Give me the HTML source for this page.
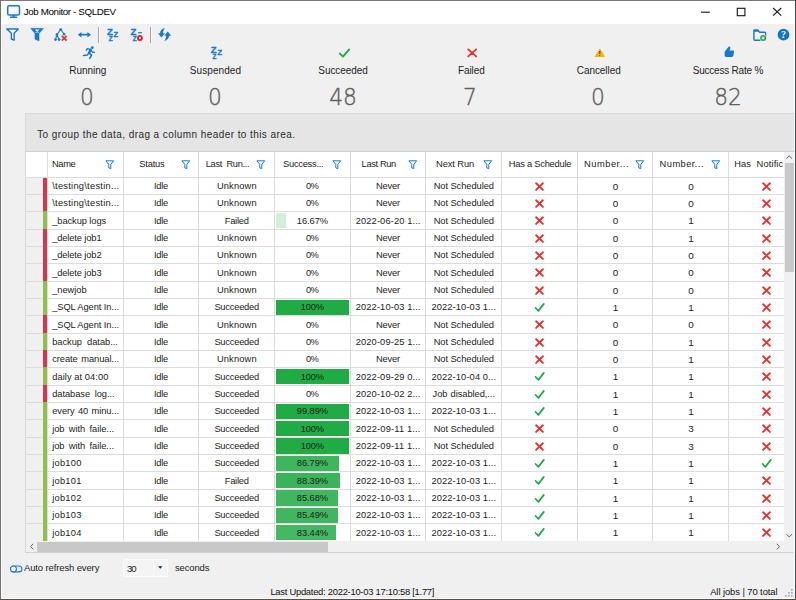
<!DOCTYPE html>
<html lang="en"><head><meta charset="utf-8"><title>Job Monitor - SQLDEV</title>
<style>
html,body{margin:0;padding:0;}
body{width:796px;height:600px;position:relative;overflow:hidden;background:#f0f0f0;font-family:"Liberation Sans",sans-serif;}
.b{position:absolute;display:block;}
.t{position:absolute;display:block;white-space:nowrap;font-family:"Liberation Sans",sans-serif;}
svg{overflow:visible}
</style></head><body>
<div class="b" style="left:0.00px;top:0.00px;width:796.00px;height:600.00px;background:#f0f0f0;"></div>
<div class="b" style="left:1.00px;top:1.00px;width:794.00px;height:23.20px;background:#ffffff;"></div>
<div class="b" style="left:1.00px;top:24.00px;width:1.20px;height:575.00px;background:#ffffff;"></div>
<div class="b" style="left:793.80px;top:24.00px;width:1.20px;height:575.00px;background:#ffffff;"></div>
<div class="b" style="left:1.00px;top:597.60px;width:794.00px;height:1.40px;background:#ffffff;"></div>
<div class="b" style="left:0.00px;top:0.00px;width:796.00px;height:1.00px;background:#7a7a7a;"></div>
<div class="b" style="left:0.00px;top:0.00px;width:1.00px;height:600.00px;background:#757270;"></div>
<div class="b" style="left:795.00px;top:0.00px;width:1.00px;height:600.00px;background:#434b52;"></div>
<div class="b" style="left:0.00px;top:599.00px;width:796.00px;height:1.00px;background:#5d4c40;"></div>
<svg class="b" style="left:6.00px;top:4.00px" width="16" height="16" viewBox="0 0 16 16"><rect x="1.7" y="1.8" width="11.8" height="9.2" rx="1.6" fill="none" stroke="#1579d3" stroke-width="1.5"/><rect x="6.4" y="11" width="2.4" height="1.8" fill="#1579d3"/><rect x="3.8" y="12.6" width="7.6" height="1.3" rx="0.6" fill="#1579d3"/></svg>
<span class="t" style="left:23.80px;top:4.10px;font-size:9.8px;line-height:16px;letter-spacing:-0.386px;color:#000;">Job Monitor - SQLDEV</span>
<svg class="b" style="left:696.00px;top:0.00px" width="100" height="24" viewBox="0 0 100 24"><path d="M5 12.2H13.8" stroke="#1a1a1a" stroke-width="1.15" fill="none"/><rect x="41.3" y="8.3" width="7.6" height="7.4" fill="none" stroke="#1a1a1a" stroke-width="1.15"/><path d="M77.1 8L85.2 15.7M85.2 8L77.1 15.7" stroke="#1a1a1a" stroke-width="1.15" fill="none"/></svg>
<svg class="b" style="left:0px;top:24px" width="200" height="22" viewBox="0 24 200 22"><path d="M6.8 29H18.3L14.1 33.2V40.2L11.4 39V33.2Z" fill="#fbfbfb" stroke="#1579d3" stroke-width="1.4" stroke-linejoin="round"/><path d="M30.6 28.3H43.6L39.1 33.4V41L34.9 39.3V33.4Z" fill="#1579d3" stroke="#1579d3" stroke-width="0.4" stroke-linejoin="round"/><path d="M35.6 29.5L38.6 32.5M38.6 29.5L35.6 32.5" stroke="#fff" stroke-width="1.15"/><path d="M60.7 29.5L56.9 34.7L55.5 39.6M56.9 34.7L59 39.6M60.7 29.5L64.2 34.1" stroke="#1579d3" stroke-width="1.1" fill="none"/><circle cx="60.7" cy="29.6" r="1.45" fill="#1579d3"/><circle cx="56.9" cy="34.7" r="1.35" fill="#1579d3"/><circle cx="64.1" cy="34.2" r="1.25" fill="#1579d3"/><circle cx="55.5" cy="39.6" r="1.35" fill="#1579d3"/><circle cx="59.1" cy="39.6" r="1.35" fill="#1579d3"/><path d="M61.8 35.8L66.6 40.6M66.6 35.8L61.8 40.6" stroke="#e3352d" stroke-width="1.8"/><path d="M77.8 34.7L81.4 31.9V33.8H87.4V31.9L91 34.7L87.4 37.5V35.6H81.4V37.5Z" fill="#1579d3"/><text x="106.9" y="35.0" font-family="Liberation Sans, sans-serif" font-weight="bold" font-size="9.5" fill="#1579d3" stroke="#1579d3" stroke-width="0.35">Z</text><text x="113.6" y="36.8" font-family="Liberation Sans, sans-serif" font-weight="bold" font-size="7.5" fill="#1579d3" stroke="#1579d3" stroke-width="0.35">Z</text><text x="108.7" y="40.9" font-family="Liberation Sans, sans-serif" font-weight="bold" font-size="6.4" fill="#1579d3" stroke="#1579d3" stroke-width="0.35">Z</text><text x="130.6" y="35.0" font-family="Liberation Sans, sans-serif" font-weight="bold" font-size="9.5" fill="#1579d3" stroke="#1579d3" stroke-width="0.35">Z</text><text x="132.7" y="40.9" font-family="Liberation Sans, sans-serif" font-weight="bold" font-size="6.4" fill="#1579d3" stroke="#1579d3" stroke-width="0.35">Z</text><path d="M138 32.7H142" stroke="#1579d3" stroke-width="1.2"/><circle cx="139.9" cy="38" r="2.05" fill="#fff" stroke="#ee1c25" stroke-width="1.8"/><path d="M165 28C162 28.6 160.2 30.6 160.1 33.2H158L161.4 37.5L165 33.2H163C163 31.2 163.6 29.5 165 28Z" fill="#1579d3"/><path d="M164.2 41C167.2 40.4 169 38.4 169.1 35.8H171.2L167.8 31.5L164.2 35.8H166.2C166.2 37.8 165.6 39.5 164.2 41Z" fill="#1579d3"/></svg>
<div class="b" style="left:97.60px;top:26.50px;width:1.20px;height:16.20px;background:#a8a8a8;"></div>
<div class="b" style="left:98.80px;top:26.50px;width:0.80px;height:16.20px;background:#fafafa;"></div>
<div class="b" style="left:149.60px;top:26.50px;width:1.20px;height:16.20px;background:#a8a8a8;"></div>
<div class="b" style="left:150.80px;top:26.50px;width:0.80px;height:16.20px;background:#fafafa;"></div>
<svg class="b" style="left:748px;top:24px" width="46" height="22" viewBox="748 24 46 22"><path d="M753.9 30.6V39.2C753.9 39.8 754.3 40.2 754.9 40.2H764.6C765.2 40.2 765.6 39.8 765.6 39.2V33.2C765.6 32.6 765.2 32.2 764.6 32.2H759.4L758.2 30.4C758 30.1 757.7 29.9 757.3 29.9H754.6C754.2 29.9 753.9 30.2 753.9 30.6Z" fill="none" stroke="#1579d3" stroke-width="1.4" stroke-linejoin="round"/><path d="M753.9 29.9H758L759 31.8H753.9Z" fill="#1579d3"/><circle cx="763.1" cy="38" r="3.5" fill="#f0f0f0"/><circle cx="763.1" cy="38" r="3" fill="#27a84a"/><path d="M763.1 36.6V39.4M761.7 38H764.5" stroke="#fff" stroke-width="1.1"/><circle cx="783.5" cy="34.7" r="5.85" fill="#1474cc"/><text x="783.5" y="38.1" text-anchor="middle" font-family="Liberation Serif, serif" font-weight="bold" font-size="10" fill="#fff">?</text></svg>
<span class="t" style="left:69.20px;top:62.60px;font-size:10px;line-height:16px;letter-spacing:-0.025px;color:#1e1e1e;">Running</span>
<span class="t" style="left:47.45px;top:78.50px;width:80px;text-align:center;font-family:'DejaVu Sans Light','DejaVu Sans',sans-serif;font-weight:200;font-size:22.9px;line-height:36px;color:#5f5f5f;-webkit-text-stroke:0.4px #5f5f5f;transform:scaleX(0.95);transform-origin:50% 50%;">0</span>
<span class="t" style="left:189.81px;top:62.60px;font-size:10px;line-height:16px;letter-spacing:0.074px;color:#1e1e1e;">Suspended</span>
<span class="t" style="left:175.41px;top:78.50px;width:80px;text-align:center;font-family:'DejaVu Sans Light','DejaVu Sans',sans-serif;font-weight:200;font-size:22.9px;line-height:36px;color:#5f5f5f;-webkit-text-stroke:0.4px #5f5f5f;transform:scaleX(0.95);transform-origin:50% 50%;">0</span>
<span class="t" style="left:318.30px;top:62.60px;font-size:10px;line-height:16px;letter-spacing:-0.055px;color:#1e1e1e;">Succeeded</span>
<span class="t" style="left:302.60px;top:78.50px;width:80px;text-align:center;font-family:'DejaVu Sans Light','DejaVu Sans',sans-serif;font-weight:200;font-size:22.9px;line-height:36px;color:#5f5f5f;-webkit-text-stroke:0.4px #5f5f5f;transform:scaleX(0.95);transform-origin:50% 50%;">48</span>
<span class="t" style="left:458.00px;top:62.60px;font-size:10px;line-height:16px;letter-spacing:-0.107px;color:#1e1e1e;">Failed</span>
<span class="t" style="left:430.30px;top:78.50px;width:80px;text-align:center;font-family:'DejaVu Sans Light','DejaVu Sans',sans-serif;font-weight:200;font-size:22.9px;line-height:36px;color:#5f5f5f;-webkit-text-stroke:0.4px #5f5f5f;transform:scaleX(0.95);transform-origin:50% 50%;">7</span>
<span class="t" style="left:576.80px;top:62.60px;font-size:10px;line-height:16px;letter-spacing:-0.072px;color:#1e1e1e;">Cancelled</span>
<span class="t" style="left:558.45px;top:78.50px;width:80px;text-align:center;font-family:'DejaVu Sans Light','DejaVu Sans',sans-serif;font-weight:200;font-size:22.9px;line-height:36px;color:#5f5f5f;-webkit-text-stroke:0.4px #5f5f5f;transform:scaleX(0.95);transform-origin:50% 50%;">0</span>
<span class="t" style="left:692.70px;top:62.60px;font-size:10px;line-height:16px;letter-spacing:-0.213px;color:#1e1e1e;">Success Rate %</span>
<span class="t" style="left:688.45px;top:78.50px;width:80px;text-align:center;font-family:'DejaVu Sans Light','DejaVu Sans',sans-serif;font-weight:200;font-size:22.9px;line-height:36px;color:#5f5f5f;-webkit-text-stroke:0.4px #5f5f5f;transform:scaleX(0.95);transform-origin:50% 50%;">82</span>
<svg class="b" style="left:60px;top:44px" width="700" height="18" viewBox="60 44 700 18"><circle cx="92.3" cy="47.7" r="1.35" fill="#1579d3"/><path d="M90.5 49.6L89 53" stroke="#1579d3" stroke-width="2.3" stroke-linecap="round" fill="none"/><path d="M90.2 49.3L87.2 48.7L86.2 50.3" stroke="#1579d3" stroke-width="1.3" stroke-linecap="round" stroke-linejoin="round" fill="none"/><path d="M90.9 49.9L92.4 52L94.5 52.4" stroke="#1579d3" stroke-width="1.3" stroke-linecap="round" stroke-linejoin="round" fill="none"/><path d="M89.2 53L91.6 55.1L89.7 58.4" stroke="#1579d3" stroke-width="1.6" stroke-linecap="round" stroke-linejoin="round" fill="none"/><path d="M88.6 53.4L87.3 55.1L83.5 55.5" stroke="#1579d3" stroke-width="1.5" stroke-linecap="round" stroke-linejoin="round" fill="none"/><text x="210.8" y="53.199999999999996" font-family="Liberation Sans, sans-serif" font-weight="bold" font-size="9.5" fill="#1579d3" stroke="#1579d3" stroke-width="0.35">Z</text><text x="217.5" y="54.99999999999999" font-family="Liberation Sans, sans-serif" font-weight="bold" font-size="7.5" fill="#1579d3" stroke="#1579d3" stroke-width="0.35">Z</text><text x="212.60000000000002" y="59.099999999999994" font-family="Liberation Sans, sans-serif" font-weight="bold" font-size="6.4" fill="#1579d3" stroke="#1579d3" stroke-width="0.35">Z</text><path d="M339.9 53.6L343 56.6L349.2 49.4" fill="none" stroke="#22a94c" stroke-width="1.9" stroke-linecap="round" stroke-linejoin="round"/><path d="M468.2 49.4L476.2 56.4M476.2 49.4L468.2 56.4" stroke="#e3352d" stroke-width="1.9" stroke-linecap="round"/><path d="M599.8 49.3L604.3 56.5H595.3Z" fill="#f7b500" stroke="#f7b500" stroke-width="1.1" stroke-linejoin="round"/><path d="M599.75 51V54.1" stroke="#5a4300" stroke-width="1.15"/><circle cx="599.75" cy="55.5" r="0.6" fill="#5a4300"/><path d="M729.2 46.6C730.2 46.4 730.7 47.4 730.3 48.4L729.5 50.6H733C733.8 50.6 734.2 51.2 734 52L733.4 55.6C733.2 56.4 732.6 56.9 731.8 56.9H726.4C725.2 56.9 724.6 56.2 724.6 55.2V52.4C724.6 51.6 725 51 725.6 50.4L728.2 47.2C728.5 46.8 728.8 46.6 729.2 46.6Z" fill="#1579d3"/></svg>
<div class="b" style="left:25.20px;top:113.20px;width:768.80px;height:439.80px;background:#ffffff;"></div>
<div class="b" style="left:25.20px;top:113.20px;width:768.80px;height:38.20px;background:#e5e5e5;"></div>
<div class="b" style="left:25.20px;top:112.70px;width:768.80px;height:1.00px;background:#d8d8d8;"></div>
<div class="b" style="left:24.80px;top:113.20px;width:1.00px;height:439.80px;background:#d8d8d8;"></div>
<div class="b" style="left:25.20px;top:150.90px;width:768.80px;height:1.00px;background:#d0d0d0;"></div>
<span class="t" style="left:37.20px;top:127.30px;font-size:10px;line-height:16px;letter-spacing:0.425px;color:#2b2b2b;">To group the data, drag a column header to this area.</span>
<div class="b" style="left:25.80px;top:177.30px;width:21.80px;height:363.70px;background:#f0f0f0;"></div>
<div class="b" style="left:47.10px;top:151.90px;width:1.00px;height:389.10px;background:#dcdcdc;"></div>
<div class="b" style="left:122.77px;top:151.90px;width:1.00px;height:389.10px;background:#dcdcdc;"></div>
<div class="b" style="left:198.44px;top:151.90px;width:1.00px;height:389.10px;background:#dcdcdc;"></div>
<div class="b" style="left:274.11px;top:151.90px;width:1.00px;height:389.10px;background:#dcdcdc;"></div>
<div class="b" style="left:349.78px;top:151.90px;width:1.00px;height:389.10px;background:#dcdcdc;"></div>
<div class="b" style="left:425.45px;top:151.90px;width:1.00px;height:389.10px;background:#dcdcdc;"></div>
<div class="b" style="left:501.12px;top:151.90px;width:1.00px;height:389.10px;background:#dcdcdc;"></div>
<div class="b" style="left:576.79px;top:151.90px;width:1.00px;height:389.10px;background:#dcdcdc;"></div>
<div class="b" style="left:652.46px;top:151.90px;width:1.00px;height:389.10px;background:#dcdcdc;"></div>
<div class="b" style="left:728.13px;top:151.90px;width:1.00px;height:389.10px;background:#dcdcdc;"></div>
<div class="b" style="left:25.80px;top:176.80px;width:758.20px;height:1.00px;background:#dcdcdc;"></div>
<div class="b" style="left:25.80px;top:194.13px;width:758.20px;height:1.00px;background:#dcdcdc;"></div>
<div class="b" style="left:25.80px;top:211.47px;width:758.20px;height:1.00px;background:#dcdcdc;"></div>
<div class="b" style="left:25.80px;top:228.80px;width:758.20px;height:1.00px;background:#dcdcdc;"></div>
<div class="b" style="left:25.80px;top:246.13px;width:758.20px;height:1.00px;background:#dcdcdc;"></div>
<div class="b" style="left:25.80px;top:263.47px;width:758.20px;height:1.00px;background:#dcdcdc;"></div>
<div class="b" style="left:25.80px;top:280.80px;width:758.20px;height:1.00px;background:#dcdcdc;"></div>
<div class="b" style="left:25.80px;top:298.13px;width:758.20px;height:1.00px;background:#dcdcdc;"></div>
<div class="b" style="left:25.80px;top:315.46px;width:758.20px;height:1.00px;background:#dcdcdc;"></div>
<div class="b" style="left:25.80px;top:332.80px;width:758.20px;height:1.00px;background:#dcdcdc;"></div>
<div class="b" style="left:25.80px;top:350.13px;width:758.20px;height:1.00px;background:#dcdcdc;"></div>
<div class="b" style="left:25.80px;top:367.46px;width:758.20px;height:1.00px;background:#dcdcdc;"></div>
<div class="b" style="left:25.80px;top:384.80px;width:758.20px;height:1.00px;background:#dcdcdc;"></div>
<div class="b" style="left:25.80px;top:402.13px;width:758.20px;height:1.00px;background:#dcdcdc;"></div>
<div class="b" style="left:25.80px;top:419.46px;width:758.20px;height:1.00px;background:#dcdcdc;"></div>
<div class="b" style="left:25.80px;top:436.80px;width:758.20px;height:1.00px;background:#dcdcdc;"></div>
<div class="b" style="left:25.80px;top:454.13px;width:758.20px;height:1.00px;background:#dcdcdc;"></div>
<div class="b" style="left:25.80px;top:471.46px;width:758.20px;height:1.00px;background:#dcdcdc;"></div>
<div class="b" style="left:25.80px;top:488.79px;width:758.20px;height:1.00px;background:#dcdcdc;"></div>
<div class="b" style="left:25.80px;top:506.13px;width:758.20px;height:1.00px;background:#dcdcdc;"></div>
<div class="b" style="left:25.80px;top:523.46px;width:758.20px;height:1.00px;background:#dcdcdc;"></div>
<div class="b" style="left:25.80px;top:540.79px;width:758.20px;height:1.00px;background:#dcdcdc;"></div>
<span class="t" style="left:51.90px;top:157.10px;font-size:9.3px;line-height:15px;letter-spacing:-0.300px;color:#1c1c1c;white-space:pre;">Name</span>
<svg class="b" style="left:105.20px;top:159.80px" width="10" height="10" viewBox="0 0 10 10"><path d="M0.9 0.8H8.7L5.8 4.4V8.6L3.8 7.9V4.4Z" fill="none" stroke="#1579d3" stroke-width="1" stroke-linejoin="round"/></svg>
<span class="t" style="left:139.30px;top:157.10px;font-size:9.3px;line-height:15px;letter-spacing:-0.191px;color:#1c1c1c;white-space:pre;">Status</span>
<svg class="b" style="left:180.60px;top:159.80px" width="10" height="10" viewBox="0 0 10 10"><path d="M0.9 0.8H8.7L5.8 4.4V8.6L3.8 7.9V4.4Z" fill="none" stroke="#1579d3" stroke-width="1" stroke-linejoin="round"/></svg>
<span class="t" style="left:205.80px;top:157.10px;font-size:9.3px;line-height:15px;letter-spacing:-0.349px;color:#1c1c1c;white-space:pre;">Last  Run...</span>
<svg class="b" style="left:256.40px;top:159.80px" width="10" height="10" viewBox="0 0 10 10"><path d="M0.9 0.8H8.7L5.8 4.4V8.6L3.8 7.9V4.4Z" fill="none" stroke="#1579d3" stroke-width="1" stroke-linejoin="round"/></svg>
<span class="t" style="left:283.00px;top:157.10px;font-size:9.3px;line-height:15px;letter-spacing:-0.243px;color:#1c1c1c;white-space:pre;">Success...</span>
<svg class="b" style="left:332.30px;top:159.80px" width="10" height="10" viewBox="0 0 10 10"><path d="M0.9 0.8H8.7L5.8 4.4V8.6L3.8 7.9V4.4Z" fill="none" stroke="#1579d3" stroke-width="1" stroke-linejoin="round"/></svg>
<span class="t" style="left:361.60px;top:157.10px;font-size:9.3px;line-height:15px;letter-spacing:-0.359px;color:#1c1c1c;white-space:pre;">Last Run</span>
<svg class="b" style="left:408.10px;top:159.80px" width="10" height="10" viewBox="0 0 10 10"><path d="M0.9 0.8H8.7L5.8 4.4V8.6L3.8 7.9V4.4Z" fill="none" stroke="#1579d3" stroke-width="1" stroke-linejoin="round"/></svg>
<span class="t" style="left:436.00px;top:157.10px;font-size:9.3px;line-height:15px;letter-spacing:-0.079px;color:#1c1c1c;white-space:pre;">Next Run</span>
<svg class="b" style="left:483.30px;top:159.80px" width="10" height="10" viewBox="0 0 10 10"><path d="M0.9 0.8H8.7L5.8 4.4V8.6L3.8 7.9V4.4Z" fill="none" stroke="#1579d3" stroke-width="1" stroke-linejoin="round"/></svg>
<span class="t" style="left:508.80px;top:157.10px;font-size:9.3px;line-height:15px;letter-spacing:-0.234px;color:#1c1c1c;white-space:pre;">Has a Schedule</span>
<span class="t" style="left:584.00px;top:157.10px;font-size:9.3px;line-height:15px;letter-spacing:0.525px;color:#1c1c1c;white-space:pre;">Number...</span>
<svg class="b" style="left:634.80px;top:159.80px" width="10" height="10" viewBox="0 0 10 10"><path d="M0.9 0.8H8.7L5.8 4.4V8.6L3.8 7.9V4.4Z" fill="none" stroke="#1579d3" stroke-width="1" stroke-linejoin="round"/></svg>
<span class="t" style="left:659.60px;top:157.10px;font-size:9.3px;line-height:15px;letter-spacing:0.450px;color:#1c1c1c;white-space:pre;">Number...</span>
<svg class="b" style="left:710.80px;top:159.80px" width="10" height="10" viewBox="0 0 10 10"><path d="M0.9 0.8H8.7L5.8 4.4V8.6L3.8 7.9V4.4Z" fill="none" stroke="#1579d3" stroke-width="1" stroke-linejoin="round"/></svg>
<span class="t" style="left:734.20px;top:157.10px;font-size:9.3px;line-height:15px;letter-spacing:0.134px;color:#1c1c1c;white-space:pre;">Has  Notific</span>
<div class="b" style="left:43.20px;top:177.80px;width:4.00px;height:17.33px;background:#d9354b;"></div>
<span class="t" style="left:52.20px;top:179.07px;font-size:9.3px;line-height:15px;letter-spacing:0.263px;color:#1c1c1c;white-space:pre;">\testing\testin...</span>
<span class="t" style="left:153.96px;top:179.07px;font-size:9.3px;line-height:15px;letter-spacing:-0.230px;color:#1c1c1c;">Idle</span>
<span class="t" style="left:216.93px;top:179.07px;font-size:9.3px;line-height:15px;letter-spacing:0.157px;color:#1c1c1c;">Unknown</span>
<span class="t" style="left:306.10px;top:179.07px;font-size:9.3px;line-height:15px;letter-spacing:-0.737px;color:#1c1c1c;">0%</span>
<span class="t" style="left:376.12px;top:179.07px;font-size:9.3px;line-height:15px;letter-spacing:-0.200px;color:#1c1c1c;">Never</span>
<span class="t" style="left:433.64px;top:179.07px;font-size:9.3px;line-height:15px;letter-spacing:-0.057px;color:#1c1c1c;white-space:pre;">Not Scheduled</span>
<svg class="b" style="left:533.56px;top:180.57px" width="11" height="11" viewBox="0 0 11 11"><path d="M2.1 2.3L8.9 8.9M8.9 2.3L2.1 8.9" stroke="#e3352d" stroke-width="1.9" stroke-linecap="round"/></svg>
<span class="t" style="left:612.67px;top:178.57px;font-size:9.9px;line-height:16px;letter-spacing:0.000px;color:#1c1c1c;">0</span>
<span class="t" style="left:688.34px;top:178.57px;font-size:9.9px;line-height:16px;letter-spacing:0.000px;color:#1c1c1c;">0</span>
<svg class="b" style="left:760.57px;top:180.57px" width="11" height="11" viewBox="0 0 11 11"><path d="M2.1 2.3L8.9 8.9M8.9 2.3L2.1 8.9" stroke="#e3352d" stroke-width="1.9" stroke-linecap="round"/></svg>
<div class="b" style="left:43.20px;top:194.13px;width:4.00px;height:18.33px;background:#d9354b;"></div>
<span class="t" style="left:52.20px;top:196.40px;font-size:9.3px;line-height:15px;letter-spacing:0.263px;color:#1c1c1c;white-space:pre;">\testing\testin...</span>
<span class="t" style="left:153.96px;top:196.40px;font-size:9.3px;line-height:15px;letter-spacing:-0.230px;color:#1c1c1c;">Idle</span>
<span class="t" style="left:216.93px;top:196.40px;font-size:9.3px;line-height:15px;letter-spacing:0.157px;color:#1c1c1c;">Unknown</span>
<span class="t" style="left:306.10px;top:196.40px;font-size:9.3px;line-height:15px;letter-spacing:-0.737px;color:#1c1c1c;">0%</span>
<span class="t" style="left:376.12px;top:196.40px;font-size:9.3px;line-height:15px;letter-spacing:-0.200px;color:#1c1c1c;">Never</span>
<span class="t" style="left:433.64px;top:196.40px;font-size:9.3px;line-height:15px;letter-spacing:-0.057px;color:#1c1c1c;white-space:pre;">Not Scheduled</span>
<svg class="b" style="left:533.56px;top:197.90px" width="11" height="11" viewBox="0 0 11 11"><path d="M2.1 2.3L8.9 8.9M8.9 2.3L2.1 8.9" stroke="#e3352d" stroke-width="1.9" stroke-linecap="round"/></svg>
<span class="t" style="left:612.67px;top:195.90px;font-size:9.9px;line-height:16px;letter-spacing:0.000px;color:#1c1c1c;">0</span>
<span class="t" style="left:688.34px;top:195.90px;font-size:9.9px;line-height:16px;letter-spacing:0.000px;color:#1c1c1c;">0</span>
<svg class="b" style="left:760.57px;top:197.90px" width="11" height="11" viewBox="0 0 11 11"><path d="M2.1 2.3L8.9 8.9M8.9 2.3L2.1 8.9" stroke="#e3352d" stroke-width="1.9" stroke-linecap="round"/></svg>
<div class="b" style="left:43.20px;top:211.47px;width:4.00px;height:18.33px;background:#8cc249;"></div>
<span class="t" style="left:52.20px;top:213.73px;font-size:9.3px;line-height:15px;letter-spacing:-0.072px;color:#1c1c1c;white-space:pre;">_backup logs</span>
<span class="t" style="left:153.96px;top:213.73px;font-size:9.3px;line-height:15px;letter-spacing:-0.230px;color:#1c1c1c;">Idle</span>
<span class="t" style="left:224.72px;top:213.73px;font-size:9.3px;line-height:15px;letter-spacing:-0.244px;color:#1c1c1c;">Failed</span>
<div class="b" style="left:275.61px;top:212.97px;width:10.16px;height:15.33px;background:#d3eeda;"></div>
<span class="t" style="left:296.80px;top:213.73px;font-size:9.3px;line-height:15px;letter-spacing:-0.046px;color:#1c1c1c;">16.67%</span>
<span class="t" style="left:355.76px;top:213.73px;font-size:9.3px;line-height:15px;letter-spacing:0.117px;color:#1c1c1c;">2022-06-20 1...</span>
<span class="t" style="left:433.64px;top:213.73px;font-size:9.3px;line-height:15px;letter-spacing:-0.057px;color:#1c1c1c;white-space:pre;">Not Scheduled</span>
<svg class="b" style="left:533.56px;top:215.23px" width="11" height="11" viewBox="0 0 11 11"><path d="M2.1 2.3L8.9 8.9M8.9 2.3L2.1 8.9" stroke="#e3352d" stroke-width="1.9" stroke-linecap="round"/></svg>
<span class="t" style="left:612.67px;top:213.23px;font-size:9.9px;line-height:16px;letter-spacing:0.000px;color:#1c1c1c;">0</span>
<span class="t" style="left:688.34px;top:213.23px;font-size:9.9px;line-height:16px;letter-spacing:0.000px;color:#1c1c1c;">1</span>
<svg class="b" style="left:760.57px;top:215.23px" width="11" height="11" viewBox="0 0 11 11"><path d="M2.1 2.3L8.9 8.9M8.9 2.3L2.1 8.9" stroke="#e3352d" stroke-width="1.9" stroke-linecap="round"/></svg>
<div class="b" style="left:43.20px;top:228.80px;width:4.00px;height:18.33px;background:#d9354b;"></div>
<span class="t" style="left:52.20px;top:231.07px;font-size:9.3px;line-height:15px;letter-spacing:-0.115px;color:#1c1c1c;white-space:pre;">_delete job1</span>
<span class="t" style="left:153.96px;top:231.07px;font-size:9.3px;line-height:15px;letter-spacing:-0.230px;color:#1c1c1c;">Idle</span>
<span class="t" style="left:216.93px;top:231.07px;font-size:9.3px;line-height:15px;letter-spacing:0.157px;color:#1c1c1c;">Unknown</span>
<span class="t" style="left:306.10px;top:231.07px;font-size:9.3px;line-height:15px;letter-spacing:-0.737px;color:#1c1c1c;">0%</span>
<span class="t" style="left:376.12px;top:231.07px;font-size:9.3px;line-height:15px;letter-spacing:-0.200px;color:#1c1c1c;">Never</span>
<span class="t" style="left:433.64px;top:231.07px;font-size:9.3px;line-height:15px;letter-spacing:-0.057px;color:#1c1c1c;white-space:pre;">Not Scheduled</span>
<svg class="b" style="left:533.56px;top:232.57px" width="11" height="11" viewBox="0 0 11 11"><path d="M2.1 2.3L8.9 8.9M8.9 2.3L2.1 8.9" stroke="#e3352d" stroke-width="1.9" stroke-linecap="round"/></svg>
<span class="t" style="left:612.67px;top:230.57px;font-size:9.9px;line-height:16px;letter-spacing:0.000px;color:#1c1c1c;">0</span>
<span class="t" style="left:688.34px;top:230.57px;font-size:9.9px;line-height:16px;letter-spacing:0.000px;color:#1c1c1c;">1</span>
<svg class="b" style="left:760.57px;top:232.57px" width="11" height="11" viewBox="0 0 11 11"><path d="M2.1 2.3L8.9 8.9M8.9 2.3L2.1 8.9" stroke="#e3352d" stroke-width="1.9" stroke-linecap="round"/></svg>
<div class="b" style="left:43.20px;top:246.13px;width:4.00px;height:18.33px;background:#d9354b;"></div>
<span class="t" style="left:52.20px;top:248.40px;font-size:9.3px;line-height:15px;letter-spacing:-0.115px;color:#1c1c1c;white-space:pre;">_delete job2</span>
<span class="t" style="left:153.96px;top:248.40px;font-size:9.3px;line-height:15px;letter-spacing:-0.230px;color:#1c1c1c;">Idle</span>
<span class="t" style="left:216.93px;top:248.40px;font-size:9.3px;line-height:15px;letter-spacing:0.157px;color:#1c1c1c;">Unknown</span>
<span class="t" style="left:306.10px;top:248.40px;font-size:9.3px;line-height:15px;letter-spacing:-0.737px;color:#1c1c1c;">0%</span>
<span class="t" style="left:376.12px;top:248.40px;font-size:9.3px;line-height:15px;letter-spacing:-0.200px;color:#1c1c1c;">Never</span>
<span class="t" style="left:433.64px;top:248.40px;font-size:9.3px;line-height:15px;letter-spacing:-0.057px;color:#1c1c1c;white-space:pre;">Not Scheduled</span>
<svg class="b" style="left:533.56px;top:249.90px" width="11" height="11" viewBox="0 0 11 11"><path d="M2.1 2.3L8.9 8.9M8.9 2.3L2.1 8.9" stroke="#e3352d" stroke-width="1.9" stroke-linecap="round"/></svg>
<span class="t" style="left:612.67px;top:247.90px;font-size:9.9px;line-height:16px;letter-spacing:0.000px;color:#1c1c1c;">0</span>
<span class="t" style="left:688.34px;top:247.90px;font-size:9.9px;line-height:16px;letter-spacing:0.000px;color:#1c1c1c;">0</span>
<svg class="b" style="left:760.57px;top:249.90px" width="11" height="11" viewBox="0 0 11 11"><path d="M2.1 2.3L8.9 8.9M8.9 2.3L2.1 8.9" stroke="#e3352d" stroke-width="1.9" stroke-linecap="round"/></svg>
<div class="b" style="left:43.20px;top:263.47px;width:4.00px;height:18.33px;background:#d9354b;"></div>
<span class="t" style="left:52.20px;top:265.73px;font-size:9.3px;line-height:15px;letter-spacing:-0.115px;color:#1c1c1c;white-space:pre;">_delete job3</span>
<span class="t" style="left:153.96px;top:265.73px;font-size:9.3px;line-height:15px;letter-spacing:-0.230px;color:#1c1c1c;">Idle</span>
<span class="t" style="left:216.93px;top:265.73px;font-size:9.3px;line-height:15px;letter-spacing:0.157px;color:#1c1c1c;">Unknown</span>
<span class="t" style="left:306.10px;top:265.73px;font-size:9.3px;line-height:15px;letter-spacing:-0.737px;color:#1c1c1c;">0%</span>
<span class="t" style="left:376.12px;top:265.73px;font-size:9.3px;line-height:15px;letter-spacing:-0.200px;color:#1c1c1c;">Never</span>
<span class="t" style="left:433.64px;top:265.73px;font-size:9.3px;line-height:15px;letter-spacing:-0.057px;color:#1c1c1c;white-space:pre;">Not Scheduled</span>
<svg class="b" style="left:533.56px;top:267.23px" width="11" height="11" viewBox="0 0 11 11"><path d="M2.1 2.3L8.9 8.9M8.9 2.3L2.1 8.9" stroke="#e3352d" stroke-width="1.9" stroke-linecap="round"/></svg>
<span class="t" style="left:612.67px;top:265.23px;font-size:9.9px;line-height:16px;letter-spacing:0.000px;color:#1c1c1c;">0</span>
<span class="t" style="left:688.34px;top:265.23px;font-size:9.9px;line-height:16px;letter-spacing:0.000px;color:#1c1c1c;">0</span>
<svg class="b" style="left:760.57px;top:267.23px" width="11" height="11" viewBox="0 0 11 11"><path d="M2.1 2.3L8.9 8.9M8.9 2.3L2.1 8.9" stroke="#e3352d" stroke-width="1.9" stroke-linecap="round"/></svg>
<div class="b" style="left:43.20px;top:280.80px;width:4.00px;height:18.33px;background:#8cc249;"></div>
<span class="t" style="left:52.20px;top:283.06px;font-size:9.3px;line-height:15px;letter-spacing:-0.039px;color:#1c1c1c;white-space:pre;">_newjob</span>
<span class="t" style="left:153.96px;top:283.06px;font-size:9.3px;line-height:15px;letter-spacing:-0.230px;color:#1c1c1c;">Idle</span>
<span class="t" style="left:216.93px;top:283.06px;font-size:9.3px;line-height:15px;letter-spacing:0.157px;color:#1c1c1c;">Unknown</span>
<span class="t" style="left:306.10px;top:283.06px;font-size:9.3px;line-height:15px;letter-spacing:-0.737px;color:#1c1c1c;">0%</span>
<span class="t" style="left:376.12px;top:283.06px;font-size:9.3px;line-height:15px;letter-spacing:-0.200px;color:#1c1c1c;">Never</span>
<span class="t" style="left:433.64px;top:283.06px;font-size:9.3px;line-height:15px;letter-spacing:-0.057px;color:#1c1c1c;white-space:pre;">Not Scheduled</span>
<svg class="b" style="left:533.56px;top:284.56px" width="11" height="11" viewBox="0 0 11 11"><path d="M2.1 2.3L8.9 8.9M8.9 2.3L2.1 8.9" stroke="#e3352d" stroke-width="1.9" stroke-linecap="round"/></svg>
<span class="t" style="left:612.67px;top:282.56px;font-size:9.9px;line-height:16px;letter-spacing:0.000px;color:#1c1c1c;">0</span>
<span class="t" style="left:688.34px;top:282.56px;font-size:9.9px;line-height:16px;letter-spacing:0.000px;color:#1c1c1c;">0</span>
<svg class="b" style="left:760.57px;top:284.56px" width="11" height="11" viewBox="0 0 11 11"><path d="M2.1 2.3L8.9 8.9M8.9 2.3L2.1 8.9" stroke="#e3352d" stroke-width="1.9" stroke-linecap="round"/></svg>
<div class="b" style="left:43.20px;top:298.13px;width:4.00px;height:18.33px;background:#8cc249;"></div>
<span class="t" style="left:52.20px;top:300.40px;font-size:9.3px;line-height:15px;letter-spacing:-0.065px;color:#1c1c1c;white-space:pre;">_SQL Agent In...</span>
<span class="t" style="left:153.96px;top:300.40px;font-size:9.3px;line-height:15px;letter-spacing:-0.230px;color:#1c1c1c;">Idle</span>
<span class="t" style="left:214.38px;top:300.40px;font-size:9.3px;line-height:15px;letter-spacing:-0.215px;color:#1c1c1c;">Succeeded</span>
<div class="b" style="left:275.61px;top:299.63px;width:73.22px;height:15.33px;background:#21ab45;"></div>
<span class="t" style="left:300.80px;top:300.40px;font-size:9.3px;line-height:15px;letter-spacing:-0.159px;color:#1c1c1c;">100%</span>
<span class="t" style="left:355.76px;top:300.40px;font-size:9.3px;line-height:15px;letter-spacing:0.117px;color:#1c1c1c;">2022-10-03 1...</span>
<span class="t" style="left:431.44px;top:300.40px;font-size:9.3px;line-height:15px;letter-spacing:0.117px;color:#1c1c1c;white-space:pre;">2022-10-03 1...</span>
<svg class="b" style="left:533.56px;top:301.90px" width="11" height="11" viewBox="0 0 11 11"><path d="M1.6 6.0L4.4 8.9L9.8 1.9" fill="none" stroke="#22a94c" stroke-width="1.75" stroke-linecap="round" stroke-linejoin="round"/></svg>
<span class="t" style="left:612.67px;top:299.90px;font-size:9.9px;line-height:16px;letter-spacing:0.000px;color:#1c1c1c;">1</span>
<span class="t" style="left:688.34px;top:299.90px;font-size:9.9px;line-height:16px;letter-spacing:0.000px;color:#1c1c1c;">1</span>
<svg class="b" style="left:760.57px;top:301.90px" width="11" height="11" viewBox="0 0 11 11"><path d="M2.1 2.3L8.9 8.9M8.9 2.3L2.1 8.9" stroke="#e3352d" stroke-width="1.9" stroke-linecap="round"/></svg>
<div class="b" style="left:43.20px;top:315.46px;width:4.00px;height:18.33px;background:#d9354b;"></div>
<span class="t" style="left:52.20px;top:317.73px;font-size:9.3px;line-height:15px;letter-spacing:-0.065px;color:#1c1c1c;white-space:pre;">_SQL Agent In...</span>
<span class="t" style="left:153.96px;top:317.73px;font-size:9.3px;line-height:15px;letter-spacing:-0.230px;color:#1c1c1c;">Idle</span>
<span class="t" style="left:216.93px;top:317.73px;font-size:9.3px;line-height:15px;letter-spacing:0.157px;color:#1c1c1c;">Unknown</span>
<span class="t" style="left:306.10px;top:317.73px;font-size:9.3px;line-height:15px;letter-spacing:-0.737px;color:#1c1c1c;">0%</span>
<span class="t" style="left:376.12px;top:317.73px;font-size:9.3px;line-height:15px;letter-spacing:-0.200px;color:#1c1c1c;">Never</span>
<span class="t" style="left:433.64px;top:317.73px;font-size:9.3px;line-height:15px;letter-spacing:-0.057px;color:#1c1c1c;white-space:pre;">Not Scheduled</span>
<svg class="b" style="left:533.56px;top:319.23px" width="11" height="11" viewBox="0 0 11 11"><path d="M2.1 2.3L8.9 8.9M8.9 2.3L2.1 8.9" stroke="#e3352d" stroke-width="1.9" stroke-linecap="round"/></svg>
<span class="t" style="left:612.67px;top:317.23px;font-size:9.9px;line-height:16px;letter-spacing:0.000px;color:#1c1c1c;">0</span>
<span class="t" style="left:688.34px;top:317.23px;font-size:9.9px;line-height:16px;letter-spacing:0.000px;color:#1c1c1c;">0</span>
<svg class="b" style="left:760.57px;top:319.23px" width="11" height="11" viewBox="0 0 11 11"><path d="M2.1 2.3L8.9 8.9M8.9 2.3L2.1 8.9" stroke="#e3352d" stroke-width="1.9" stroke-linecap="round"/></svg>
<div class="b" style="left:43.20px;top:332.80px;width:4.00px;height:18.33px;background:#8cc249;"></div>
<span class="t" style="left:52.20px;top:335.06px;font-size:9.3px;line-height:15px;letter-spacing:-0.050px;color:#1c1c1c;word-spacing:2.72px;white-space:pre;">backup datab...</span>
<span class="t" style="left:153.96px;top:335.06px;font-size:9.3px;line-height:15px;letter-spacing:-0.230px;color:#1c1c1c;">Idle</span>
<span class="t" style="left:214.38px;top:335.06px;font-size:9.3px;line-height:15px;letter-spacing:-0.215px;color:#1c1c1c;">Succeeded</span>
<span class="t" style="left:306.10px;top:335.06px;font-size:9.3px;line-height:15px;letter-spacing:-0.737px;color:#1c1c1c;">0%</span>
<span class="t" style="left:355.76px;top:335.06px;font-size:9.3px;line-height:15px;letter-spacing:0.117px;color:#1c1c1c;">2020-09-25 1...</span>
<span class="t" style="left:433.64px;top:335.06px;font-size:9.3px;line-height:15px;letter-spacing:-0.057px;color:#1c1c1c;white-space:pre;">Not Scheduled</span>
<svg class="b" style="left:533.56px;top:336.56px" width="11" height="11" viewBox="0 0 11 11"><path d="M2.1 2.3L8.9 8.9M8.9 2.3L2.1 8.9" stroke="#e3352d" stroke-width="1.9" stroke-linecap="round"/></svg>
<span class="t" style="left:612.67px;top:334.56px;font-size:9.9px;line-height:16px;letter-spacing:0.000px;color:#1c1c1c;">0</span>
<span class="t" style="left:688.34px;top:334.56px;font-size:9.9px;line-height:16px;letter-spacing:0.000px;color:#1c1c1c;">1</span>
<svg class="b" style="left:760.57px;top:336.56px" width="11" height="11" viewBox="0 0 11 11"><path d="M2.1 2.3L8.9 8.9M8.9 2.3L2.1 8.9" stroke="#e3352d" stroke-width="1.9" stroke-linecap="round"/></svg>
<div class="b" style="left:43.20px;top:350.13px;width:4.00px;height:18.33px;background:#d9354b;"></div>
<span class="t" style="left:52.20px;top:352.40px;font-size:9.3px;line-height:15px;letter-spacing:-0.050px;color:#1c1c1c;word-spacing:0.99px;white-space:pre;">create manual...</span>
<span class="t" style="left:153.96px;top:352.40px;font-size:9.3px;line-height:15px;letter-spacing:-0.230px;color:#1c1c1c;">Idle</span>
<span class="t" style="left:216.93px;top:352.40px;font-size:9.3px;line-height:15px;letter-spacing:0.157px;color:#1c1c1c;">Unknown</span>
<span class="t" style="left:306.10px;top:352.40px;font-size:9.3px;line-height:15px;letter-spacing:-0.737px;color:#1c1c1c;">0%</span>
<span class="t" style="left:376.12px;top:352.40px;font-size:9.3px;line-height:15px;letter-spacing:-0.200px;color:#1c1c1c;">Never</span>
<span class="t" style="left:433.64px;top:352.40px;font-size:9.3px;line-height:15px;letter-spacing:-0.057px;color:#1c1c1c;white-space:pre;">Not Scheduled</span>
<svg class="b" style="left:533.56px;top:353.90px" width="11" height="11" viewBox="0 0 11 11"><path d="M2.1 2.3L8.9 8.9M8.9 2.3L2.1 8.9" stroke="#e3352d" stroke-width="1.9" stroke-linecap="round"/></svg>
<span class="t" style="left:612.67px;top:351.90px;font-size:9.9px;line-height:16px;letter-spacing:0.000px;color:#1c1c1c;">0</span>
<span class="t" style="left:688.34px;top:351.90px;font-size:9.9px;line-height:16px;letter-spacing:0.000px;color:#1c1c1c;">1</span>
<svg class="b" style="left:760.57px;top:353.90px" width="11" height="11" viewBox="0 0 11 11"><path d="M2.1 2.3L8.9 8.9M8.9 2.3L2.1 8.9" stroke="#e3352d" stroke-width="1.9" stroke-linecap="round"/></svg>
<div class="b" style="left:43.20px;top:367.46px;width:4.00px;height:18.33px;background:#8cc249;"></div>
<span class="t" style="left:52.20px;top:369.73px;font-size:9.3px;line-height:15px;letter-spacing:0.069px;color:#1c1c1c;white-space:pre;">daily at 04:00</span>
<span class="t" style="left:153.96px;top:369.73px;font-size:9.3px;line-height:15px;letter-spacing:-0.230px;color:#1c1c1c;">Idle</span>
<span class="t" style="left:214.38px;top:369.73px;font-size:9.3px;line-height:15px;letter-spacing:-0.215px;color:#1c1c1c;">Succeeded</span>
<div class="b" style="left:275.61px;top:368.96px;width:73.22px;height:15.33px;background:#21ab45;"></div>
<span class="t" style="left:300.80px;top:369.73px;font-size:9.3px;line-height:15px;letter-spacing:-0.159px;color:#1c1c1c;">100%</span>
<span class="t" style="left:355.76px;top:369.73px;font-size:9.3px;line-height:15px;letter-spacing:0.117px;color:#1c1c1c;">2022-09-29 0...</span>
<span class="t" style="left:431.44px;top:369.73px;font-size:9.3px;line-height:15px;letter-spacing:0.117px;color:#1c1c1c;white-space:pre;">2022-10-04 0...</span>
<svg class="b" style="left:533.56px;top:371.23px" width="11" height="11" viewBox="0 0 11 11"><path d="M1.6 6.0L4.4 8.9L9.8 1.9" fill="none" stroke="#22a94c" stroke-width="1.75" stroke-linecap="round" stroke-linejoin="round"/></svg>
<span class="t" style="left:612.67px;top:369.23px;font-size:9.9px;line-height:16px;letter-spacing:0.000px;color:#1c1c1c;">1</span>
<span class="t" style="left:688.34px;top:369.23px;font-size:9.9px;line-height:16px;letter-spacing:0.000px;color:#1c1c1c;">1</span>
<svg class="b" style="left:760.57px;top:371.23px" width="11" height="11" viewBox="0 0 11 11"><path d="M2.1 2.3L8.9 8.9M8.9 2.3L2.1 8.9" stroke="#e3352d" stroke-width="1.9" stroke-linecap="round"/></svg>
<div class="b" style="left:43.20px;top:384.80px;width:4.00px;height:18.33px;background:#d9354b;"></div>
<span class="t" style="left:52.20px;top:387.06px;font-size:9.3px;line-height:15px;letter-spacing:-0.050px;color:#1c1c1c;word-spacing:2.11px;white-space:pre;">database log...</span>
<span class="t" style="left:153.96px;top:387.06px;font-size:9.3px;line-height:15px;letter-spacing:-0.230px;color:#1c1c1c;">Idle</span>
<span class="t" style="left:214.38px;top:387.06px;font-size:9.3px;line-height:15px;letter-spacing:-0.215px;color:#1c1c1c;">Succeeded</span>
<span class="t" style="left:306.10px;top:387.06px;font-size:9.3px;line-height:15px;letter-spacing:-0.737px;color:#1c1c1c;">0%</span>
<span class="t" style="left:355.76px;top:387.06px;font-size:9.3px;line-height:15px;letter-spacing:0.117px;color:#1c1c1c;">2020-10-02 2...</span>
<span class="t" style="left:432.59px;top:387.06px;font-size:9.3px;line-height:15px;letter-spacing:-0.050px;color:#1c1c1c;word-spacing:0.61px;white-space:pre;">Job disabled,...</span>
<svg class="b" style="left:533.56px;top:388.56px" width="11" height="11" viewBox="0 0 11 11"><path d="M1.6 6.0L4.4 8.9L9.8 1.9" fill="none" stroke="#22a94c" stroke-width="1.75" stroke-linecap="round" stroke-linejoin="round"/></svg>
<span class="t" style="left:612.67px;top:386.56px;font-size:9.9px;line-height:16px;letter-spacing:0.000px;color:#1c1c1c;">1</span>
<span class="t" style="left:688.34px;top:386.56px;font-size:9.9px;line-height:16px;letter-spacing:0.000px;color:#1c1c1c;">1</span>
<svg class="b" style="left:760.57px;top:388.56px" width="11" height="11" viewBox="0 0 11 11"><path d="M2.1 2.3L8.9 8.9M8.9 2.3L2.1 8.9" stroke="#e3352d" stroke-width="1.9" stroke-linecap="round"/></svg>
<div class="b" style="left:43.20px;top:402.13px;width:4.00px;height:18.33px;background:#8cc249;"></div>
<span class="t" style="left:52.20px;top:404.40px;font-size:9.3px;line-height:15px;letter-spacing:-0.050px;color:#1c1c1c;word-spacing:0.75px;white-space:pre;">every 40 minu...</span>
<span class="t" style="left:153.96px;top:404.40px;font-size:9.3px;line-height:15px;letter-spacing:-0.230px;color:#1c1c1c;">Idle</span>
<span class="t" style="left:214.38px;top:404.40px;font-size:9.3px;line-height:15px;letter-spacing:-0.215px;color:#1c1c1c;">Succeeded</span>
<div class="b" style="left:275.61px;top:403.63px;width:73.14px;height:15.33px;background:#21ab45;"></div>
<span class="t" style="left:296.80px;top:404.40px;font-size:9.3px;line-height:15px;letter-spacing:-0.046px;color:#1c1c1c;">99.89%</span>
<span class="t" style="left:355.76px;top:404.40px;font-size:9.3px;line-height:15px;letter-spacing:0.117px;color:#1c1c1c;">2022-10-03 1...</span>
<span class="t" style="left:431.44px;top:404.40px;font-size:9.3px;line-height:15px;letter-spacing:0.117px;color:#1c1c1c;white-space:pre;">2022-10-03 1...</span>
<svg class="b" style="left:533.56px;top:405.90px" width="11" height="11" viewBox="0 0 11 11"><path d="M1.6 6.0L4.4 8.9L9.8 1.9" fill="none" stroke="#22a94c" stroke-width="1.75" stroke-linecap="round" stroke-linejoin="round"/></svg>
<span class="t" style="left:612.67px;top:403.90px;font-size:9.9px;line-height:16px;letter-spacing:0.000px;color:#1c1c1c;">1</span>
<span class="t" style="left:688.34px;top:403.90px;font-size:9.9px;line-height:16px;letter-spacing:0.000px;color:#1c1c1c;">1</span>
<svg class="b" style="left:760.57px;top:405.90px" width="11" height="11" viewBox="0 0 11 11"><path d="M2.1 2.3L8.9 8.9M8.9 2.3L2.1 8.9" stroke="#e3352d" stroke-width="1.9" stroke-linecap="round"/></svg>
<div class="b" style="left:43.20px;top:419.46px;width:4.00px;height:18.33px;background:#8cc249;"></div>
<span class="t" style="left:52.20px;top:421.73px;font-size:9.3px;line-height:15px;letter-spacing:-0.050px;color:#1c1c1c;word-spacing:1.85px;white-space:pre;">job with faile...</span>
<span class="t" style="left:153.96px;top:421.73px;font-size:9.3px;line-height:15px;letter-spacing:-0.230px;color:#1c1c1c;">Idle</span>
<span class="t" style="left:214.38px;top:421.73px;font-size:9.3px;line-height:15px;letter-spacing:-0.215px;color:#1c1c1c;">Succeeded</span>
<div class="b" style="left:275.61px;top:420.96px;width:73.22px;height:15.33px;background:#21ab45;"></div>
<span class="t" style="left:300.80px;top:421.73px;font-size:9.3px;line-height:15px;letter-spacing:-0.159px;color:#1c1c1c;">100%</span>
<span class="t" style="left:355.76px;top:421.73px;font-size:9.3px;line-height:15px;letter-spacing:0.167px;color:#1c1c1c;">2022-09-11 1...</span>
<span class="t" style="left:433.64px;top:421.73px;font-size:9.3px;line-height:15px;letter-spacing:-0.057px;color:#1c1c1c;white-space:pre;">Not Scheduled</span>
<svg class="b" style="left:533.56px;top:423.23px" width="11" height="11" viewBox="0 0 11 11"><path d="M2.1 2.3L8.9 8.9M8.9 2.3L2.1 8.9" stroke="#e3352d" stroke-width="1.9" stroke-linecap="round"/></svg>
<span class="t" style="left:612.67px;top:421.23px;font-size:9.9px;line-height:16px;letter-spacing:0.000px;color:#1c1c1c;">0</span>
<span class="t" style="left:688.34px;top:421.23px;font-size:9.9px;line-height:16px;letter-spacing:0.000px;color:#1c1c1c;">3</span>
<svg class="b" style="left:760.57px;top:423.23px" width="11" height="11" viewBox="0 0 11 11"><path d="M2.1 2.3L8.9 8.9M8.9 2.3L2.1 8.9" stroke="#e3352d" stroke-width="1.9" stroke-linecap="round"/></svg>
<div class="b" style="left:43.20px;top:436.80px;width:4.00px;height:18.33px;background:#8cc249;"></div>
<span class="t" style="left:52.20px;top:439.06px;font-size:9.3px;line-height:15px;letter-spacing:-0.050px;color:#1c1c1c;word-spacing:1.85px;white-space:pre;">job with faile...</span>
<span class="t" style="left:153.96px;top:439.06px;font-size:9.3px;line-height:15px;letter-spacing:-0.230px;color:#1c1c1c;">Idle</span>
<span class="t" style="left:214.38px;top:439.06px;font-size:9.3px;line-height:15px;letter-spacing:-0.215px;color:#1c1c1c;">Succeeded</span>
<div class="b" style="left:275.61px;top:438.30px;width:73.22px;height:15.33px;background:#21ab45;"></div>
<span class="t" style="left:300.80px;top:439.06px;font-size:9.3px;line-height:15px;letter-spacing:-0.159px;color:#1c1c1c;">100%</span>
<span class="t" style="left:355.76px;top:439.06px;font-size:9.3px;line-height:15px;letter-spacing:0.167px;color:#1c1c1c;">2022-09-11 1...</span>
<span class="t" style="left:433.64px;top:439.06px;font-size:9.3px;line-height:15px;letter-spacing:-0.057px;color:#1c1c1c;white-space:pre;">Not Scheduled</span>
<svg class="b" style="left:533.56px;top:440.56px" width="11" height="11" viewBox="0 0 11 11"><path d="M2.1 2.3L8.9 8.9M8.9 2.3L2.1 8.9" stroke="#e3352d" stroke-width="1.9" stroke-linecap="round"/></svg>
<span class="t" style="left:612.67px;top:438.56px;font-size:9.9px;line-height:16px;letter-spacing:0.000px;color:#1c1c1c;">0</span>
<span class="t" style="left:688.34px;top:438.56px;font-size:9.9px;line-height:16px;letter-spacing:0.000px;color:#1c1c1c;">3</span>
<svg class="b" style="left:760.57px;top:440.56px" width="11" height="11" viewBox="0 0 11 11"><path d="M2.1 2.3L8.9 8.9M8.9 2.3L2.1 8.9" stroke="#e3352d" stroke-width="1.9" stroke-linecap="round"/></svg>
<div class="b" style="left:43.20px;top:454.13px;width:4.00px;height:18.33px;background:#8cc249;"></div>
<span class="t" style="left:52.20px;top:456.39px;font-size:9.3px;line-height:15px;letter-spacing:0.257px;color:#1c1c1c;white-space:pre;">job100</span>
<span class="t" style="left:153.96px;top:456.39px;font-size:9.3px;line-height:15px;letter-spacing:-0.230px;color:#1c1c1c;">Idle</span>
<span class="t" style="left:214.38px;top:456.39px;font-size:9.3px;line-height:15px;letter-spacing:-0.215px;color:#1c1c1c;">Succeeded</span>
<div class="b" style="left:275.61px;top:455.63px;width:63.22px;height:15.33px;background:#3db65d;"></div>
<span class="t" style="left:296.80px;top:456.39px;font-size:9.3px;line-height:15px;letter-spacing:-0.046px;color:#1c1c1c;">86.79%</span>
<span class="t" style="left:355.76px;top:456.39px;font-size:9.3px;line-height:15px;letter-spacing:0.117px;color:#1c1c1c;">2022-10-03 1...</span>
<span class="t" style="left:431.44px;top:456.39px;font-size:9.3px;line-height:15px;letter-spacing:0.117px;color:#1c1c1c;white-space:pre;">2022-10-03 1...</span>
<svg class="b" style="left:533.56px;top:457.89px" width="11" height="11" viewBox="0 0 11 11"><path d="M1.6 6.0L4.4 8.9L9.8 1.9" fill="none" stroke="#22a94c" stroke-width="1.75" stroke-linecap="round" stroke-linejoin="round"/></svg>
<span class="t" style="left:612.67px;top:455.89px;font-size:9.9px;line-height:16px;letter-spacing:0.000px;color:#1c1c1c;">1</span>
<span class="t" style="left:688.34px;top:455.89px;font-size:9.9px;line-height:16px;letter-spacing:0.000px;color:#1c1c1c;">1</span>
<svg class="b" style="left:760.57px;top:457.89px" width="11" height="11" viewBox="0 0 11 11"><path d="M1.6 6.0L4.4 8.9L9.8 1.9" fill="none" stroke="#22a94c" stroke-width="1.75" stroke-linecap="round" stroke-linejoin="round"/></svg>
<div class="b" style="left:43.20px;top:471.46px;width:4.00px;height:18.33px;background:#8cc249;"></div>
<span class="t" style="left:52.20px;top:473.73px;font-size:9.3px;line-height:15px;letter-spacing:0.257px;color:#1c1c1c;white-space:pre;">job101</span>
<span class="t" style="left:153.96px;top:473.73px;font-size:9.3px;line-height:15px;letter-spacing:-0.230px;color:#1c1c1c;">Idle</span>
<span class="t" style="left:224.72px;top:473.73px;font-size:9.3px;line-height:15px;letter-spacing:-0.244px;color:#1c1c1c;">Failed</span>
<div class="b" style="left:275.61px;top:472.96px;width:64.43px;height:15.33px;background:#3ab45a;"></div>
<span class="t" style="left:296.80px;top:473.73px;font-size:9.3px;line-height:15px;letter-spacing:-0.046px;color:#1c1c1c;">88.39%</span>
<span class="t" style="left:355.76px;top:473.73px;font-size:9.3px;line-height:15px;letter-spacing:0.117px;color:#1c1c1c;">2022-10-03 1...</span>
<span class="t" style="left:431.44px;top:473.73px;font-size:9.3px;line-height:15px;letter-spacing:0.117px;color:#1c1c1c;white-space:pre;">2022-10-03 1...</span>
<svg class="b" style="left:533.56px;top:475.23px" width="11" height="11" viewBox="0 0 11 11"><path d="M1.6 6.0L4.4 8.9L9.8 1.9" fill="none" stroke="#22a94c" stroke-width="1.75" stroke-linecap="round" stroke-linejoin="round"/></svg>
<span class="t" style="left:612.67px;top:473.23px;font-size:9.9px;line-height:16px;letter-spacing:0.000px;color:#1c1c1c;">1</span>
<span class="t" style="left:688.34px;top:473.23px;font-size:9.9px;line-height:16px;letter-spacing:0.000px;color:#1c1c1c;">1</span>
<svg class="b" style="left:760.57px;top:475.23px" width="11" height="11" viewBox="0 0 11 11"><path d="M2.1 2.3L8.9 8.9M8.9 2.3L2.1 8.9" stroke="#e3352d" stroke-width="1.9" stroke-linecap="round"/></svg>
<div class="b" style="left:43.20px;top:488.79px;width:4.00px;height:18.33px;background:#8cc249;"></div>
<span class="t" style="left:52.20px;top:491.06px;font-size:9.3px;line-height:15px;letter-spacing:0.257px;color:#1c1c1c;white-space:pre;">job102</span>
<span class="t" style="left:153.96px;top:491.06px;font-size:9.3px;line-height:15px;letter-spacing:-0.230px;color:#1c1c1c;">Idle</span>
<span class="t" style="left:214.38px;top:491.06px;font-size:9.3px;line-height:15px;letter-spacing:-0.215px;color:#1c1c1c;">Succeeded</span>
<div class="b" style="left:275.61px;top:490.29px;width:62.38px;height:15.33px;background:#40b75f;"></div>
<span class="t" style="left:296.80px;top:491.06px;font-size:9.3px;line-height:15px;letter-spacing:-0.046px;color:#1c1c1c;">85.68%</span>
<span class="t" style="left:355.76px;top:491.06px;font-size:9.3px;line-height:15px;letter-spacing:0.117px;color:#1c1c1c;">2022-10-03 1...</span>
<span class="t" style="left:431.44px;top:491.06px;font-size:9.3px;line-height:15px;letter-spacing:0.117px;color:#1c1c1c;white-space:pre;">2022-10-03 1...</span>
<svg class="b" style="left:533.56px;top:492.56px" width="11" height="11" viewBox="0 0 11 11"><path d="M1.6 6.0L4.4 8.9L9.8 1.9" fill="none" stroke="#22a94c" stroke-width="1.75" stroke-linecap="round" stroke-linejoin="round"/></svg>
<span class="t" style="left:612.67px;top:490.56px;font-size:9.9px;line-height:16px;letter-spacing:0.000px;color:#1c1c1c;">1</span>
<span class="t" style="left:688.34px;top:490.56px;font-size:9.9px;line-height:16px;letter-spacing:0.000px;color:#1c1c1c;">1</span>
<svg class="b" style="left:760.57px;top:492.56px" width="11" height="11" viewBox="0 0 11 11"><path d="M2.1 2.3L8.9 8.9M8.9 2.3L2.1 8.9" stroke="#e3352d" stroke-width="1.9" stroke-linecap="round"/></svg>
<div class="b" style="left:43.20px;top:506.13px;width:4.00px;height:18.33px;background:#8cc249;"></div>
<span class="t" style="left:52.20px;top:508.39px;font-size:9.3px;line-height:15px;letter-spacing:0.257px;color:#1c1c1c;white-space:pre;">job103</span>
<span class="t" style="left:153.96px;top:508.39px;font-size:9.3px;line-height:15px;letter-spacing:-0.230px;color:#1c1c1c;">Idle</span>
<span class="t" style="left:214.38px;top:508.39px;font-size:9.3px;line-height:15px;letter-spacing:-0.215px;color:#1c1c1c;">Succeeded</span>
<div class="b" style="left:275.61px;top:507.63px;width:62.24px;height:15.33px;background:#40b75f;"></div>
<span class="t" style="left:296.80px;top:508.39px;font-size:9.3px;line-height:15px;letter-spacing:-0.046px;color:#1c1c1c;">85.49%</span>
<span class="t" style="left:355.76px;top:508.39px;font-size:9.3px;line-height:15px;letter-spacing:0.117px;color:#1c1c1c;">2022-10-03 1...</span>
<span class="t" style="left:431.44px;top:508.39px;font-size:9.3px;line-height:15px;letter-spacing:0.117px;color:#1c1c1c;white-space:pre;">2022-10-03 1...</span>
<svg class="b" style="left:533.56px;top:509.89px" width="11" height="11" viewBox="0 0 11 11"><path d="M1.6 6.0L4.4 8.9L9.8 1.9" fill="none" stroke="#22a94c" stroke-width="1.75" stroke-linecap="round" stroke-linejoin="round"/></svg>
<span class="t" style="left:612.67px;top:507.89px;font-size:9.9px;line-height:16px;letter-spacing:0.000px;color:#1c1c1c;">1</span>
<span class="t" style="left:688.34px;top:507.89px;font-size:9.9px;line-height:16px;letter-spacing:0.000px;color:#1c1c1c;">1</span>
<svg class="b" style="left:760.57px;top:509.89px" width="11" height="11" viewBox="0 0 11 11"><path d="M2.1 2.3L8.9 8.9M8.9 2.3L2.1 8.9" stroke="#e3352d" stroke-width="1.9" stroke-linecap="round"/></svg>
<div class="b" style="left:43.20px;top:523.46px;width:4.00px;height:17.83px;background:#8cc249;"></div>
<span class="t" style="left:52.20px;top:525.73px;font-size:9.3px;line-height:15px;letter-spacing:0.257px;color:#1c1c1c;white-space:pre;">job104</span>
<span class="t" style="left:153.96px;top:525.73px;font-size:9.3px;line-height:15px;letter-spacing:-0.230px;color:#1c1c1c;">Idle</span>
<span class="t" style="left:214.38px;top:525.73px;font-size:9.3px;line-height:15px;letter-spacing:-0.215px;color:#1c1c1c;">Succeeded</span>
<div class="b" style="left:275.61px;top:524.96px;width:60.69px;height:15.33px;background:#44b863;"></div>
<span class="t" style="left:296.80px;top:525.73px;font-size:9.3px;line-height:15px;letter-spacing:-0.046px;color:#1c1c1c;">83.44%</span>
<span class="t" style="left:355.76px;top:525.73px;font-size:9.3px;line-height:15px;letter-spacing:0.117px;color:#1c1c1c;">2022-10-03 1...</span>
<span class="t" style="left:431.44px;top:525.73px;font-size:9.3px;line-height:15px;letter-spacing:0.117px;color:#1c1c1c;white-space:pre;">2022-10-03 1...</span>
<svg class="b" style="left:533.56px;top:527.23px" width="11" height="11" viewBox="0 0 11 11"><path d="M1.6 6.0L4.4 8.9L9.8 1.9" fill="none" stroke="#22a94c" stroke-width="1.75" stroke-linecap="round" stroke-linejoin="round"/></svg>
<span class="t" style="left:612.67px;top:525.23px;font-size:9.9px;line-height:16px;letter-spacing:0.000px;color:#1c1c1c;">1</span>
<span class="t" style="left:688.34px;top:525.23px;font-size:9.9px;line-height:16px;letter-spacing:0.000px;color:#1c1c1c;">1</span>
<svg class="b" style="left:760.57px;top:527.23px" width="11" height="11" viewBox="0 0 11 11"><path d="M2.1 2.3L8.9 8.9M8.9 2.3L2.1 8.9" stroke="#e3352d" stroke-width="1.9" stroke-linecap="round"/></svg>
<div class="b" style="left:783.80px;top:151.90px;width:10.20px;height:389.10px;background:#f0f0f0;"></div>
<div class="b" style="left:784.50px;top:162.80px;width:9.50px;height:109.70px;background:#c8c8c8;"></div>
<svg class="b" style="left:784.00px;top:152.00px" width="10" height="11" viewBox="0 0 10 11"><path d="M2.4 6.6L5.2 3.9L8 6.6" fill="none" stroke="#606060" stroke-width="1"/></svg>
<svg class="b" style="left:784.00px;top:530.00px" width="10" height="11" viewBox="0 0 10 11"><path d="M2.4 4.2L5.2 6.9L8 4.2" fill="none" stroke="#606060" stroke-width="1"/></svg>
<div class="b" style="left:25.80px;top:541.00px;width:768.20px;height:11.40px;background:#f0f0f0;"></div>
<div class="b" style="left:37.40px;top:541.60px;width:290.90px;height:10.60px;background:#c8c8c8;"></div>
<svg class="b" style="left:27.00px;top:541.00px" width="10" height="11" viewBox="0 0 10 11"><path d="M6.2 2.8L3.5 5.6L6.2 8.4" fill="none" stroke="#606060" stroke-width="1"/></svg>
<svg class="b" style="left:773.00px;top:541.00px" width="10" height="11" viewBox="0 0 10 11"><path d="M3.8 2.8L6.5 5.6L3.8 8.4" fill="none" stroke="#606060" stroke-width="1"/></svg>
<div class="b" style="left:25.20px;top:552.40px;width:768.80px;height:1.00px;background:#d2d2d2;"></div>
<svg class="b" style="left:8.50px;top:562.50px" width="15" height="12" viewBox="0 0 15 12"><rect x="1.5" y="3.0" width="11.4" height="5.9" rx="2.95" fill="none" stroke="#1579d3" stroke-width="1.1"/><circle cx="4.45" cy="5.95" r="2.95" fill="#fff" stroke="#1579d3" stroke-width="1.1"/></svg>
<span class="t" style="left:24.00px;top:560.30px;font-size:9.5px;line-height:15px;letter-spacing:-0.131px;color:#1c1c1c;">Auto refresh every</span>
<div class="b" style="left:123.40px;top:559.40px;width:44.20px;height:17.40px;background:#f4f4f4;border:1px solid #fbfbfb;box-sizing:border-box;"></div>
<div class="b" style="left:153.40px;top:560.00px;width:0.80px;height:16.20px;background:#fafafa;"></div>
<span class="t" style="left:127.00px;top:560.50px;font-size:9.6px;line-height:15px;letter-spacing:-1.071px;color:#1c1c1c;">30</span>
<svg class="b" style="left:157.00px;top:565.00px" width="7" height="5" viewBox="0 0 7 5"><path d="M1.1 1.3L3.3 3.8L5.5 1.3Z" fill="#222"/></svg>
<span class="t" style="left:175.00px;top:560.30px;font-size:9.5px;line-height:15px;letter-spacing:-0.147px;color:#1c1c1c;">seconds</span>
<span class="t" style="left:270.40px;top:583.90px;font-size:9.4px;line-height:15px;letter-spacing:-0.258px;color:#111;">Last Updated: 2022-10-03 17:10:58 [1.77]</span>
<span class="t" style="left:710.20px;top:583.90px;font-size:9.4px;line-height:15px;letter-spacing:-0.069px;color:#111;">All jobs | 70 total</span>
<svg class="b" style="left:785.00px;top:588.80px" width="9" height="9" viewBox="0 0 9 9"><rect x="6" y="0" width="1.6" height="1.6" fill="#a6a6a6"/><rect x="3" y="3" width="1.6" height="1.6" fill="#a6a6a6"/><rect x="6" y="3" width="1.6" height="1.6" fill="#a6a6a6"/><rect x="0" y="6" width="1.6" height="1.6" fill="#a6a6a6"/><rect x="3" y="6" width="1.6" height="1.6" fill="#a6a6a6"/><rect x="6" y="6" width="1.6" height="1.6" fill="#a6a6a6"/></svg>
</body></html>
